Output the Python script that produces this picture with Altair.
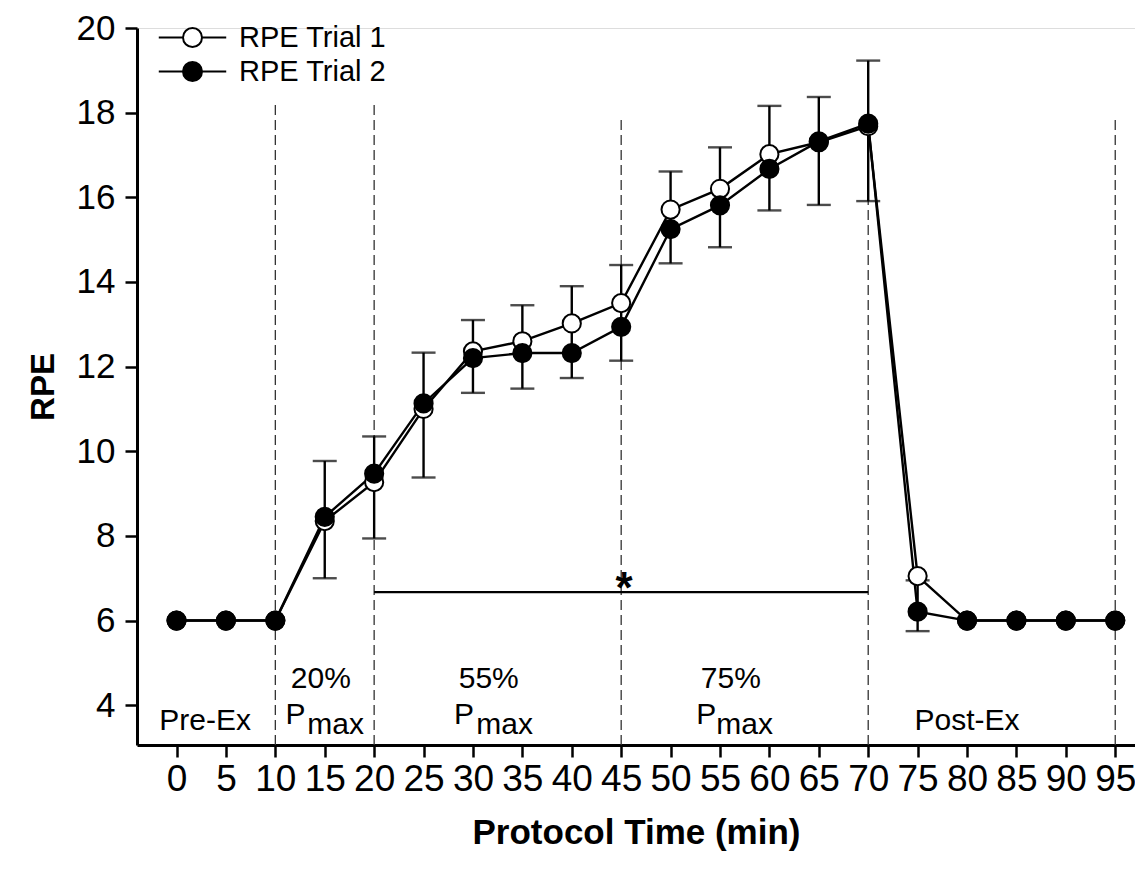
import altair as alt
import pandas as pd

# ---------------- data ----------------
times = [0, 5, 10, 15, 20, 25, 30, 35, 40, 45, 50, 55, 60, 65, 70, 75, 80, 85, 90, 95]
trial1 = [6, 6, 6, 8.35, 9.27, 11.0, 12.36, 12.6, 13.02, 13.5, 15.71, 16.2, 17.02, 17.3, 17.68, 7.05, 6, 6, 6, 6]
trial2 = [6, 6, 6, 8.45, 9.47, 11.13, 12.2, 12.32, 12.32, 12.94, 15.25, 15.81, 16.67, 17.32, 17.74, 6.21, 6, 6, 6, 6]

err_times = [15, 20, 25, 30, 35, 40, 45, 50, 55, 60, 65, 70, 75]
err_low = [7.0, 7.94, 9.38, 11.38, 11.48, 11.73, 12.14, 14.44, 14.82, 15.69, 15.82, 15.91, 5.75]
err_high = [9.77, 10.35, 12.33, 13.1, 13.45, 13.9, 14.4, 16.61, 17.18, 18.16, 18.37, 19.23, 6.95]

phase_lines = [10, 20, 45, 70, 95]
phase_line_top = [18.2, 18.2, 17.9, 18.2, 17.9]

sig_start, sig_end, sig_y = [20], [70], [6.67]
star_x, star_y = [45.3], [6.42]

phase_labels = ["Pre-Ex", "20%", "55%", "75%", "Post-Ex"]
phase_label_x = [2.9, 14.6, 31.6, 56.1, 80.0]
phase_label_y = [3.42, 4.40, 4.40, 4.40, 3.42]
p_x = [12.05, 29.1, 53.6]
p_y = [3.55, 3.55, 3.55]
max_x = [16.1, 33.2, 57.5]
max_y = [3.33, 3.33, 3.33]

series_names = ["RPE Trial 1", "RPE Trial 2"]
x_ticks = times
y_ticks = [4, 6, 8, 10, 12, 14, 16, 18, 20]

# ---------------- tables ----------------
pts = pd.DataFrame({
    "time": times + times,
    "rpe": trial1 + trial2,
    "series": [series_names[0]] * len(times) + [series_names[1]] * len(times),
})
err = pd.DataFrame({"time": err_times, "lo": err_low, "hi": err_high})
vlines = pd.DataFrame({"time": phase_lines, "top": phase_line_top, "bottom": [3.06] * len(phase_lines)})
sig = pd.DataFrame({"x1": sig_start, "x2": sig_end, "y": sig_y})
star = pd.DataFrame({"x": star_x, "y": star_y, "t": ["*"]})
plab = pd.DataFrame({"x": phase_label_x, "y": phase_label_y, "t": phase_labels})
pp = pd.DataFrame({"x": p_x, "y": p_y, "t": ["P"] * 3})
pm = pd.DataFrame({"x": max_x, "y": max_y, "t": ["max"] * 3})

FONT = "Liberation Sans"
NARROW = "Liberation Sans Narrow, Arial Narrow, Liberation Sans"

xscale = alt.Scale(domain=[-4, 97], nice=False, zero=False)
yscale = alt.Scale(domain=[3.06, 20], nice=False, zero=False)

xaxis = alt.Axis(values=x_ticks, title="Protocol Time (min)", grid=False,
                 labelFont=NARROW, labelFontSize=37, labelPadding=4,
                 titleFont=NARROW, titleFontSize=35, titleFontWeight="bold", titlePadding=18,
                 tickSize=12, tickWidth=2.5, domainWidth=3, domainColor="black",
                 tickColor="black", labelColor="black", titleColor="black", labelFlush=False)
yaxis = alt.Axis(values=y_ticks, title="RPE", grid=False,
                 labelFont=FONT, labelFontSize=35, labelPadding=10,
                 titleFont=FONT, titleFontSize=33, titleFontWeight="bold", titlePadding=16,
                 tickSize=12, tickWidth=2.5, domainWidth=3, domainColor="black",
                 tickColor="black", labelColor="black", titleColor="black")


def X(field):
    return alt.X(f"{field}:Q", scale=xscale, axis=xaxis)


def Y(field):
    return alt.Y(f"{field}:Q", scale=yscale, axis=yaxis)


dashed = alt.Chart(vlines).mark_rule(color="#333333", strokeWidth=1.3, strokeDash=[10, 5]).encode(
    x=X("time"), y=Y("bottom"), y2="top")

sigline = alt.Chart(sig).mark_rule(color="black", strokeWidth=2.2).encode(
    x=X("x1"), x2="x2", y=Y("y"))

startext = alt.Chart(star).mark_text(fontSize=44, fontWeight="bold", font=FONT, align="center",
                                     baseline="alphabetic", color="black").encode(
    x=X("x"), y=Y("y"), text="t")

labels = alt.Chart(plab).mark_text(fontSize=30, font=FONT, align="center", baseline="alphabetic",
                                   color="black").encode(x=X("x"), y=Y("y"), text="t")
plabels = alt.Chart(pp).mark_text(fontSize=30, font=FONT, align="center", baseline="alphabetic",
                                  color="black").encode(x=X("x"), y=Y("y"), text="t")
mlabels = alt.Chart(pm).mark_text(fontSize=30, font=FONT, align="center", baseline="alphabetic",
                                  color="black").encode(x=X("x"), y=Y("y"), text="t")

lines = alt.Chart(pts).mark_line(color="black", strokeWidth=2.4).encode(
    x=X("time"), y=Y("rpe"), detail="series:N")

ebar = alt.Chart(err).mark_rule(color="black", strokeWidth=2.4).encode(
    x=X("time"), y=Y("lo"), y2="hi")
ecap_lo = alt.Chart(err).mark_tick(color="black", orient="horizontal", size=24, thickness=2.4).encode(
    x=X("time"), y=Y("lo"))
ecap_hi = alt.Chart(err).mark_tick(color="black", orient="horizontal", size=24, thickness=2.4).encode(
    x=X("time"), y=Y("hi"))

legend_path = "M-3.55,0L-1,0M1,0L3.55,0M1,0A1,1,0,1,1,-1,0A1,1,0,1,1,1,0Z"

points = alt.Chart(pts).mark_point(shape="circle", filled=True, size=330, stroke="black",
                                   strokeWidth=2, opacity=1).encode(
    x=X("time"), y=Y("rpe"),
    fill=alt.Fill("series:N",
                  scale=alt.Scale(domain=series_names, range=["white", "black"]),
                  legend=alt.Legend(title=None, orient="none", legendX=41, legendY=-5,
                                    symbolType=legend_path, symbolSize=361,
                                    symbolStrokeColor="black", symbolStrokeWidth=2,
                                    symbolOpacity=1, labelFont=FONT, labelFontSize=29,
                                    labelColor="black", labelOffset=32, rowPadding=4,
                                    padding=0)),
)

chart = alt.layer(
    dashed, sigline, startext, labels, plabels, mlabels, lines, ebar, ecap_lo, ecap_hi, points
).properties(
    width=998, height=717,
    autosize=alt.AutoSizeParams(type="none"),
    padding={"left": 129, "top": 20, "right": 0, "bottom": 120},
).configure_view(stroke=None).configure(background="white")

chart.save("out.html", embed_options={"renderer": "svg", "actions": False})
